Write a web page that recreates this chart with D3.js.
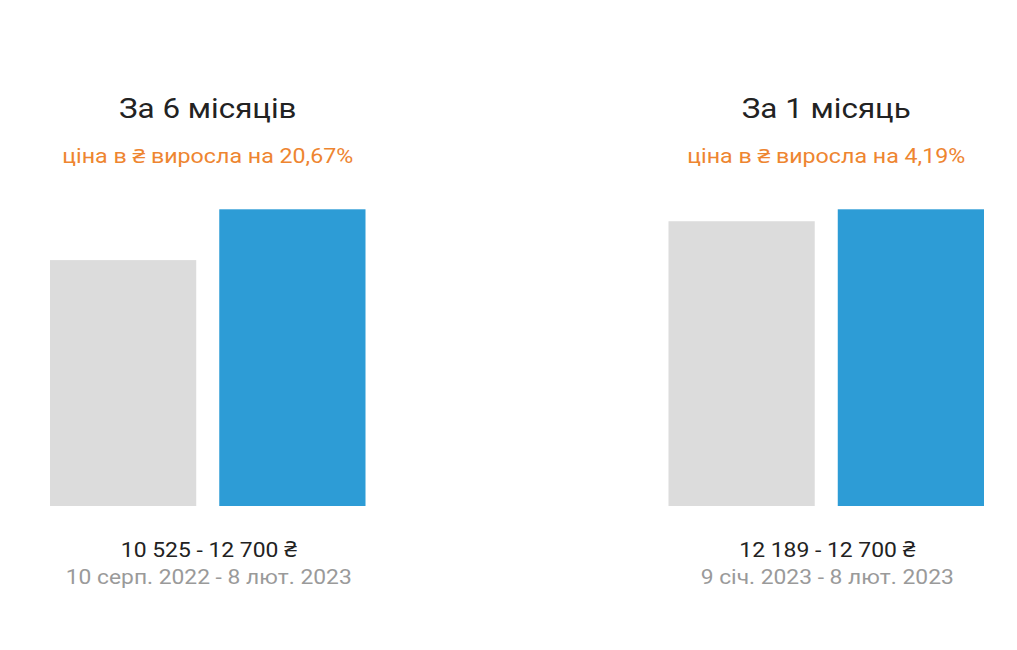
<!DOCTYPE html>
<html><head><meta charset="utf-8">
<script src="https://cdn.jsdelivr.net/npm/d3@7/dist/d3.min.js"></script>
<style>
html,body{margin:0;padding:0;background:#fff;}
svg{display:block;font-family:Roboto,"Noto Sans",sans-serif;}
</style></head>
<body>
<svg id="chart" width="1017" height="650"></svg>
<script>
const panelTitles = ["За 6 місяців", "За 1 місяць"];
const panelSubtitles = ["ціна в ₴ виросла на 20,67%", "ціна в ₴ виросла на 4,19%"];
const categories = ["start", "end"];
const startValues = [10525, 12189];
const endValues = [12700, 12700];
const valueLabels = ["10 525 - 12 700 ₴", "12 189 - 12 700 ₴"];
const dateLabels = ["10 серп. 2022 - 8 лют. 2023", "9 січ. 2023 - 8 лют. 2023"];

const svg = d3.select("#chart");
const y = d3.scaleLinear().domain([0, 12700]).range([506, 209.3]);
const panelX = [50, 668.5];
const panelW = 315.5;
const colors = d3.scaleOrdinal().domain(categories).range(["#dcdcdc", "#2d9cd6"]);

function stretch(sel, f) {
  sel.each(function () {
    const w = this.getComputedTextLength();
    d3.select(this).attr("textLength", w * f).attr("lengthAdjust", "spacingAndGlyphs");
  });
}

panelTitles.forEach((t, i) => {
  const g = svg.append("g");
  const x = d3.scaleBand().domain(categories).range([panelX[i], panelX[i] + panelW]).paddingInner(0.136).paddingOuter(0);
  const cx = panelX[i] + panelW / 2;
  const data = [{k: "start", v: startValues[i]}, {k: "end", v: endValues[i]}];
  g.selectAll("rect").data(data).enter().append("rect")
    .attr("x", d => x(d.k))
    .attr("width", x.bandwidth())
    .attr("y", d => y(d.v))
    .attr("height", d => y(0) - y(d.v))
    .attr("fill", d => colors(d.k));
  g.append("text").attr("x", cx).attr("y", 118).attr("text-anchor", "middle")
    .attr("font-size", 28).attr("fill", "#222").text(t).call(stretch, 1.12);
  g.append("text").attr("x", cx).attr("y", 163).attr("text-anchor", "middle")
    .attr("font-size", 20).attr("fill", "#ee8530").text(panelSubtitles[i]).call(stretch, 1.16);
  g.append("text").attr("x", cx + 1).attr("y", 557).attr("text-anchor", "middle")
    .attr("font-size", 21).attr("fill", "#222").text(valueLabels[i]).call(stretch, 1.09);
  g.append("text").attr("x", cx + 1).attr("y", 584).attr("text-anchor", "middle")
    .attr("font-size", 20).attr("fill", "#9a9a9a").text(dateLabels[i]).call(stretch, 1.14);
});
</script>
</body></html>
